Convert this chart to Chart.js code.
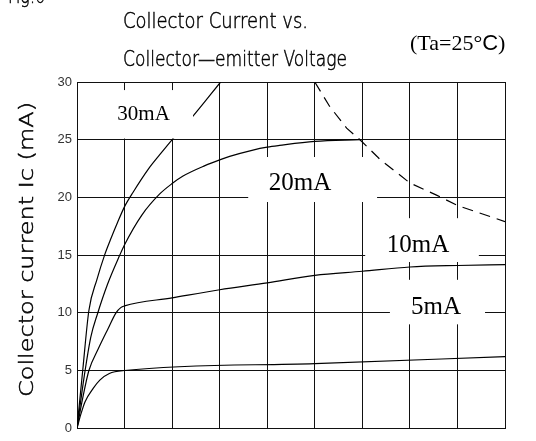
<!DOCTYPE html>
<html>
<head>
<meta charset="utf-8">
<script src="https://cdn.jsdelivr.net/npm/chart.js@4"></script>
<style>
    body { margin: 0; background: #fff; }
    canvas { display: block; }
</style>
</head>
<body>
<canvas id="icChart" width="536" height="441"></canvas>
<script>
// curves: Vce (grid divisions) and Ic (mA)
const vce30 = [0, 0.12, 0.25, 0.42, 0.58, 0.72, 0.85, 1.0, 1.18, 1.5, 1.74, 2.02, 2.43, 3.02];
const ic30 = [0, 5.0, 10.2, 12.9, 15.0, 16.5, 17.8, 19.2, 20.45, 22.45, 23.7, 25.1, 27.0, 30];
const vce20 = [0, 0.15, 0.29, 0.43, 0.64, 0.9, 1.0, 1.36, 1.74, 2.0, 2.23, 2.69, 3.0, 3.21, 3.7, 4.0, 4.26, 5.0, 5.95];
const ic20 = [0, 4.45, 7.9, 9.9, 12.45, 15.0, 15.9, 18.45, 20.3, 21.2, 21.85, 22.75, 23.25, 23.55, 24.1, 24.35, 24.5, 24.85, 25.0];
const vce10 = [0, 0.12, 0.25, 0.45, 0.65, 0.82, 0.92, 1.0, 2, 3, 4, 5, 6, 7, 8, 9];
const ic10 = [0, 2.6, 5.0, 6.9, 8.6, 10.0, 10.45, 10.6, 11.3, 12.0, 12.6, 13.25, 13.6, 13.97, 14.1, 14.17];
const vce5 = [0, 0.08, 0.17, 0.34, 0.48, 0.68, 1.0, 5.0, 9.0];
const ic5 = [0, 1.2, 2.3, 3.45, 4.17, 4.74, 5.0, 5.6, 6.2];
const vcePc = [5.0, 5.31, 5.67, 5.95, 6.37, 7.0, 7.56, 8.0, 9.0];
const icPc = [30, 27.9, 26.0, 25.0, 23.3, 21.25, 20.2, 19.3, 17.9];
const yTicks = [0, 5, 10, 15, 20, 25, 30];

// base current labels: text, centre and white box in data units
const curveLabels = [
    { text: '30mA', x: 1.40, y: 27.2, box: [0.5, 2.44, 25.1, 29.3], size: 21 },
    { text: '20mA', x: 4.69, y: 21.2, box: [3.6, 6.31, 19.6, 23.5], size: 25 },
    { text: '10mA', x: 7.17, y: 15.85, box: [6.06, 8.45, 14.4, 18.2], size: 25 },
    { text: '5mA', x: 7.55, y: 10.45, box: [6.58, 8.58, 9.0, 12.86], size: 25 }
];

const toPoints = (xs, ys) => xs.map((x, i) => ({ x: x, y: ys[i] }));

const curve = (xs, ys) => ({
    data: toPoints(xs, ys),
    showLine: true,
    borderColor: '#000',
    borderWidth: 1.2,
    pointRadius: 0,
    fill: false,
    cubicInterpolationMode: 'monotone'
});

// thin plotter-style text squeezed to a given width
const drawFitted = (ctx, text, x, y, w, font) => {
    ctx.save();
    ctx.font = font;
    const m = ctx.measureText(text).width;
    ctx.translate(x, y);
    ctx.scale(w / m, 1);
    ctx.fillText(text, 0, 0);
    ctx.lineWidth = 0.5;
    ctx.strokeStyle = '#000';
    ctx.strokeText(text, 0, 0);
    ctx.restore();
}

const figText = {
    id: 'figText',
    afterDraw(chart) {
        const ctx = chart.ctx;
        const xs = chart.scales.x, ys = chart.scales.y;
        ctx.save();
        // label boxes hide the grid behind them
        curveLabels.forEach(l => {
            const x1 = xs.getPixelForValue(l.box[0]), x2 = xs.getPixelForValue(l.box[1]);
            const y1 = ys.getPixelForValue(l.box[3]), y2 = ys.getPixelForValue(l.box[2]);
            ctx.fillStyle = '#fff';
            ctx.fillRect(x1, y1, x2 - x1, y2 - y1);
            ctx.fillStyle = '#000';
            ctx.font = l.size + 'px "Liberation Serif"';
            ctx.textAlign = 'center';
            ctx.textBaseline = 'middle';
            ctx.fillText(l.text, xs.getPixelForValue(l.x), ys.getPixelForValue(l.y));
        });

        ctx.textAlign = 'left';
        ctx.textBaseline = 'alphabetic';
        ctx.fillStyle = '#000';
        const cad = '200 22px "DejaVu Sans"';
        drawFitted(ctx, 'Fig.6', 8, 3, 37, cad);
        drawFitted(ctx, 'Collector Current vs.', 123, 28, 185, cad);
        drawFitted(ctx, 'Collector\u2014emitter Voltage', 123, 66, 224, cad);

        // y axis title
        ctx.save();
        ctx.translate(33, 397);
        ctx.rotate(-Math.PI / 2);
        drawFitted(ctx, 'Collector current Ic (mA)', 0, 0, 295, '200 20px "DejaVu Sans"');
        ctx.restore();

        // temperature note
        let tx = 410;
        ctx.font = '22px "Liberation Serif"';
        ctx.fillText('(Ta=25\u00b0', tx, 50);
        tx += ctx.measureText('(Ta=25\u00b0').width;
        ctx.font = '22px "Liberation Sans"';
        ctx.fillText('C', tx, 50);
        tx += ctx.measureText('C').width;
        ctx.font = '22px "Liberation Serif"';
        ctx.fillText(')', tx, 50);
        ctx.restore();
    }
};

const dashed = curve(vcePc, icPc);
dashed.borderDash = [11, 7];
dashed.cubicInterpolationMode = 'default';

new Chart(document.getElementById('icChart'), {
    type: 'scatter',
    data: {
        datasets: [curve(vce30, ic30), curve(vce20, ic20), curve(vce10, ic10), curve(vce5, ic5), dashed]
    },
    options: {
        responsive: false,
        animation: false,
        layout: { padding: { top: 82, right: 31, bottom: 9, left: 0 } },
        plugins: { legend: { display: false }, tooltip: { enabled: false } },
        scales: {
            x: {
                type: 'linear',
                min: 0,
                max: 9,
                ticks: { display: false, stepSize: 1 },
                grid: { color: '#111', lineWidth: 1, drawTicks: false },
                border: { color: '#111' },
                afterFit: s => { s.height = 0; }
            },
            y: {
                min: 0,
                max: 30,
                afterBuildTicks: s => { s.ticks = yTicks.map(v => ({ value: v })); },
                ticks: { padding: 5, color: '#333', font: { family: 'Liberation Sans', size: 13 } },
                grid: { color: '#111', lineWidth: 1, drawTicks: false },
                border: { color: '#111' },
                afterFit: s => { s.width = 77; }
            }
        }
    },
    plugins: [figText]
});
</script>
</body>
</html>
